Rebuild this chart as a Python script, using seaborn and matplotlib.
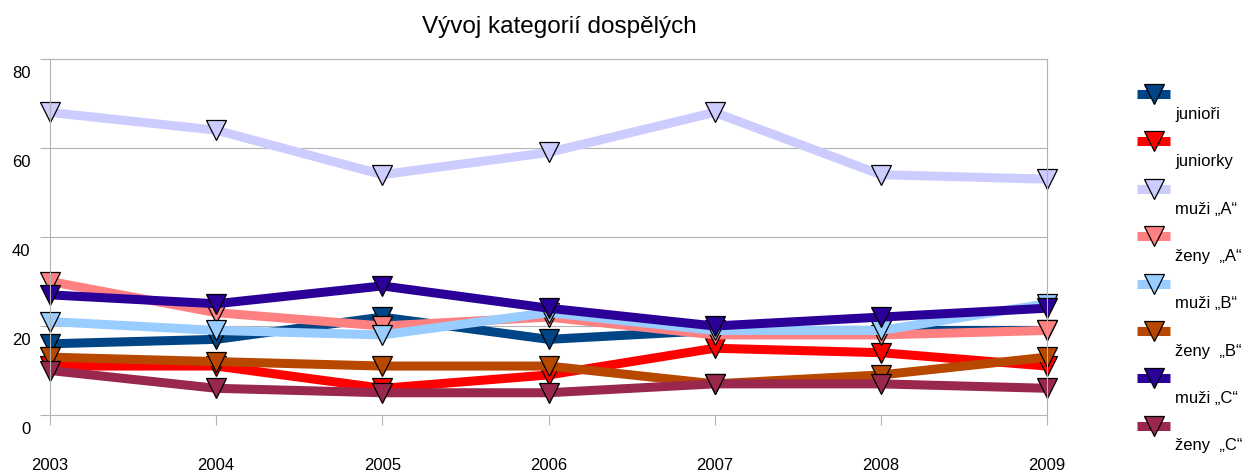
import matplotlib
matplotlib.use("Agg")
import matplotlib.pyplot as plt
import matplotlib.transforms as mtransforms
import pandas as pd
import seaborn as sns

# data
years = [2003, 2004, 2005, 2006, 2007, 2008, 2009]
categories = ["junioři", "juniorky", "muži „A“", "ženy  „A“",
              "muži „B“", "ženy  „B“", "muži „C“", "ženy  „C“"]
juniori = [16, 17, 22, 17, 19, 19, 19]
juniorky = [11, 11, 6, 9, 15, 14, 11]
muzi_a = [68, 64, 54, 59, 68, 54, 53]
zeny_a = [30, 23, 20, 22, 18, 18, 19]
muzi_b = [21, 19, 18, 23, 19, 19, 25]
zeny_b = [13, 12, 11, 11, 7, 9, 13]
muzi_c = [27, 25, 29, 24, 20, 22, 24]
zeny_c = [10, 6, 5, 5, 7, 7, 6]
colors = ["#004586", "#ff0000", "#ccccff", "#ff8080",
          "#99ccff", "#b84700", "#2a0099", "#99284c"]

series = [juniori, juniorky, muzi_a, zeny_a, muzi_b, zeny_b, muzi_c, zeny_c]
df = pd.DataFrame({
    "rok": years * len(categories),
    "hodnota": [v for s in series for v in s],
    "kategorie": [c for c in categories for _ in years],
})

sns.set_style("white")
plt.rcParams["font.family"] = ["Liberation Sans", "DejaVu Sans"]
plt.rcParams["font.size"] = 12
plt.rcParams["text.color"] = "black"
plt.rcParams["xtick.color"] = "black"
plt.rcParams["ytick.color"] = "black"
plt.rcParams["lines.solid_capstyle"] = "butt"

fig = plt.figure(figsize=(12.48, 4.75), dpi=100)
ax = fig.add_axes([50 / 1248, 60 / 475, 997 / 1248, 356 / 475])

grid_col = "#b3b3b3"
for cat, col in zip(categories, colors):
    sns.lineplot(data=df[df["kategorie"] == cat], x="rok", y="hodnota",
                 color=col, linewidth=6.5, marker="v", markersize=14,
                 markeredgecolor="black", markeredgewidth=0.9,
                 label=cat, ax=ax, clip_on=False)

ax.set_xlim(2003, 2009)
ax.set_ylim(0, 80)
ax.set_xticks(years)
ax.set_yticks([0, 20, 40, 60, 80])
ax.set_xlabel("")
ax.set_ylabel("")
ax.grid(axis="y", color=grid_col, linewidth=0.8)
ax.set_axisbelow(True)
for sp in ax.spines.values():
    sp.set_color(grid_col)
    sp.set_linewidth(0.8)
ax.tick_params(axis="both", which="major", length=7.5, width=0.8,
               color=grid_col, labelcolor="black", direction="out",
               labelsize=12, bottom=True, left=True, top=False, right=False)
ax.tick_params(axis="x", pad=23.5)
ax.tick_params(axis="y", pad=6.5)
# y labels sit below their grid lines, as in the original
shift = mtransforms.ScaledTranslation(0, -0.07, fig.dpi_scale_trans)
for lab in ax.get_yticklabels():
    lab.set_va("top")
    lab.set_transform(lab.get_transform() + shift)

ax.set_title("Vývoj kategorií dospělých", fontsize=17.5, pad=19, x=0.511)

leg = ax.legend(loc="upper left", bbox_to_anchor=(1137 / 1248, 1 - 88 / 475),
                bbox_transform=fig.transFigure, frameon=False,
                handlelength=2.0, handletextpad=0.3, labelspacing=1.94,
                fontsize=12, borderpad=0, borderaxespad=0)
for t in leg.get_texts():
    t.set_position((0, -19))

fig.savefig("out.png", dpi=100)
